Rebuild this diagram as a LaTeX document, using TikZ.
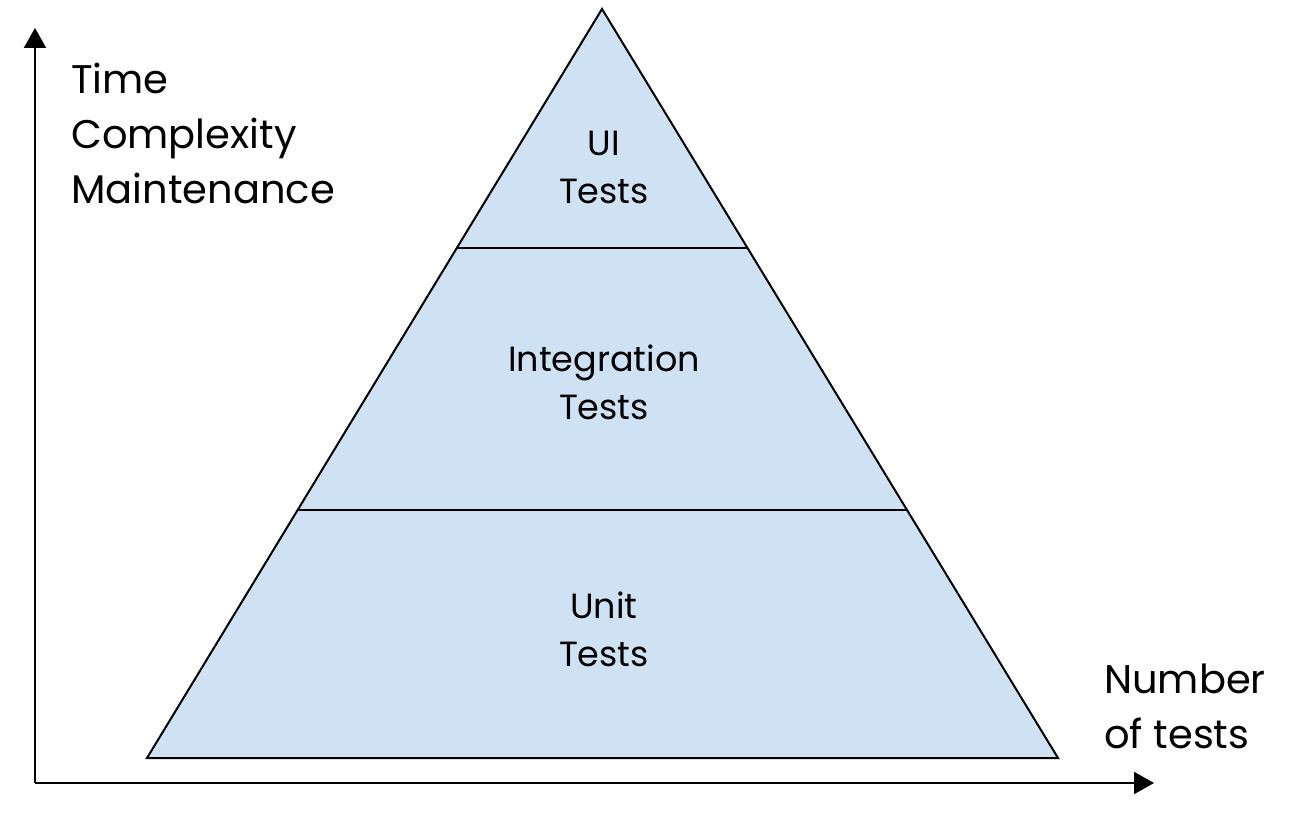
\documentclass[tikz,border=0pt]{standalone}
\usepackage{fontspec}
\setmainfont{Poppins}
\usetikzlibrary{arrows.meta}
\begin{document}
\begin{tikzpicture}[x=1pt,y=-1pt,
  axis/.style={line width=2.2pt,-{Triangle[length=20pt,width=22pt]}},
  layer/.style={line width=2pt,line join=miter},
  lbl/.style={inner sep=0pt,align=center,font=\fontsize{35}{48}\selectfont},
  axlbl/.style={inner sep=0pt,align=left,anchor=north west,font=\fontsize{40}{55}\selectfont}]
\useasboundingbox (0,0) rectangle (1303,813);
\coordinate (O) at (35,783);
\coordinate (Y) at (35,28);
\coordinate (X) at (1154,783);
\coordinate (A) at (602,9);
\coordinate (BL) at (147,758);
\coordinate (BR) at (1058,758);
\coordinate (L1) at (457,248);
\coordinate (R1) at (747.5,248);
\coordinate (L2) at (298,510);
\coordinate (R2) at (907,510);
\fill[fill={rgb,255:red,207;green,226;blue,243}] (A) -- (BR) -- (BL) -- cycle;
\draw[layer] (A) -- (BR) -- (BL) -- cycle;
\draw[layer] (L1) -- (R1);
\draw[layer] (L2) -- (R2);
\draw[axis] (O) -- (Y);
\draw[axis] (O) -- (X);
\node[lbl] (ui) at (604,167) {UI\\Tests};
\node[lbl] (int) at (604,382) {Integration\\Tests};
\node[lbl] (unit) at (604,629) {Unit\\Tests};
\node[axlbl] (yl) at (71,63) {Time\\Complexity\\Maintenance};
\node[axlbl] (xl) at (1104,664) {Number\\of tests};
\end{tikzpicture}
\end{document}
